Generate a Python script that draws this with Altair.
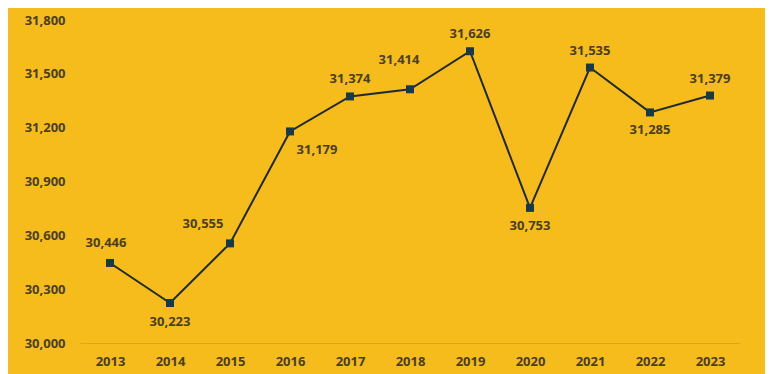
import altair as alt
import pandas as pd

years = ["2013", "2014", "2015", "2016", "2017", "2018", "2019", "2020", "2021", "2022", "2023"]
values = [30446, 30223, 30555, 31179, 31374, 31414, 31626, 30753, 31535, 31285, 31379]
y_ticks = [30000, 30300, 30600, 30900, 31200, 31500, 31800]

# label placement (style only): (dx, dy) relative to each point
label_offsets = {
    "2013": (-4, -20), "2014": (0, 19), "2015": (-27, -19), "2016": (27, 19),
    "2017": (0, -17), "2018": (-11, -29), "2019": (0, -17), "2020": (0, 18),
    "2021": (0, -17), "2022": (0, 18), "2023": (0, -17),
}

df = pd.DataFrame({"year": years, "value": values})

BG = "#F6BC1B"
TEXT = "#4a3f1e"
LINE = "#1f2a2e"
MARK = "#173a4a"
FONT = "Open Sans"

x = alt.X("year:O", scale=alt.Scale(paddingOuter=0.5), title=None,
          axis=alt.Axis(labelAngle=0, ticks=False, domain=True, domainColor="#dca51c",
                        domainWidth=1, labelPadding=12, labelFontSize=13,
                        labelFont=FONT, labelFontWeight="bold", labelColor=TEXT, grid=False))
y = alt.Y("value:Q", scale=alt.Scale(domain=[30000, 31800], nice=False, zero=False), title=None,
          axis=alt.Axis(values=y_ticks, labelExpr="format(datum.value, ',')", ticks=False,
                        domain=False, grid=False, labelPadding=15, labelFontSize=13,
                        labelFont=FONT, labelFontWeight="bold", labelColor=TEXT))

base = alt.Chart(df)
line = base.mark_line(color=LINE, strokeWidth=2).encode(x=x, y=y)
pts = base.mark_square(color=MARK, size=64, opacity=1).encode(x=x, y=y)

layers = [line, pts]
for yr in years:
    dx, dy = label_offsets[yr]
    layers.append(
        base.transform_filter(alt.datum.year == yr).mark_text(
            dx=dx, dy=dy, font=FONT, fontWeight="bold", fontSize=13, color=TEXT
        ).encode(x=x, y=y, text=alt.Text("value:Q", format=","))
    )

chart = alt.layer(*layers).properties(
    width=660, height=323, background=BG,
    padding={"left": 72, "top": 12, "right": 25, "bottom": 31},
    autosize=alt.AutoSizeParams(type="none"),
).configure_view(stroke=None)

chart.save("out.html", embed_options={"renderer": "svg", "actions": False})
